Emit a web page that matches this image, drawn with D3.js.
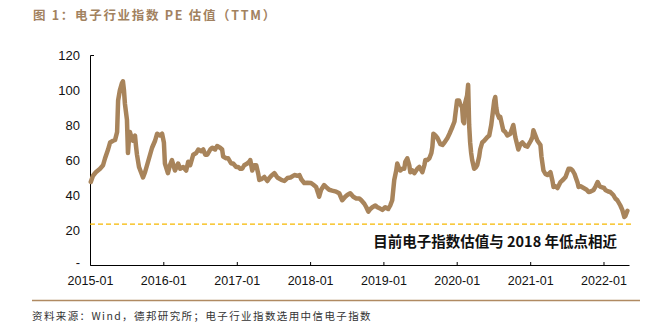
<!DOCTYPE html>
<html><head><meta charset="utf-8">
<script src="https://cdn.jsdelivr.net/npm/d3@7"></script>
<style>
html,body{margin:0;padding:0;background:#fff;}
svg{display:block;font-family:"Liberation Sans",Arial,sans-serif;}
</style></head>
<body>
<svg id="chart" width="669" height="334"></svg>
<script>
const dates = [
"2015-01-05","2015-01-16","2015-01-30","2015-02-20","2015-03-07","2015-03-17","2015-04-01","2015-04-11","2015-04-26","2015-05-06","2015-05-16","2015-05-21","2015-05-30","2015-06-09","2015-06-14","2015-06-19","2015-06-24","2015-07-04","2015-07-09","2015-07-14","2015-07-19","2015-07-24","2015-08-03","2015-08-13","2015-08-18","2015-08-23","2015-09-02","2015-09-12","2015-09-22","2015-10-02","2015-10-17","2015-10-27","2015-11-06","2015-11-21","2015-12-01","2015-12-16","2015-12-26",
"2016-01-04","2016-01-09","2016-01-24","2016-02-03","2016-02-13","2016-02-28","2016-03-15","2016-03-25","2016-04-09","2016-04-24","2016-05-04","2016-05-14","2016-05-29","2016-06-13","2016-06-23","2016-07-08","2016-07-18","2016-07-28","2016-08-07","2016-08-22","2016-09-01","2016-09-15","2016-09-25","2016-10-10","2016-10-20","2016-10-25","2016-11-09","2016-11-19","2016-12-04","2016-12-14","2016-12-29",
"2017-01-08","2017-01-18","2017-01-28","2017-02-07","2017-02-22","2017-03-04","2017-03-09","2017-03-19","2017-03-29","2017-04-08","2017-04-18","2017-04-23","2017-05-03","2017-05-18","2017-06-02","2017-06-12","2017-06-22","2017-07-07","2017-07-22","2017-08-11","2017-08-26","2017-09-10","2017-09-25","2017-10-15","2017-10-30","2017-11-09","2017-11-18","2017-12-03","2017-12-18",
"2018-01-06","2018-01-16","2018-01-31","2018-02-10","2018-02-15","2018-02-25","2018-03-12","2018-03-27","2018-04-06","2018-04-21","2018-05-11","2018-05-26","2018-06-10","2018-06-25","2018-07-05","2018-07-20","2018-08-04","2018-08-19","2018-09-03","2018-09-13","2018-09-28","2018-10-08","2018-10-18","2018-10-28","2018-11-07","2018-11-22","2018-12-02","2018-12-12","2018-12-27",
"2019-01-10","2019-01-25","2019-02-04","2019-02-14","2019-02-24","2019-03-06","2019-03-11","2019-03-21","2019-03-26","2019-04-05","2019-04-15","2019-04-20","2019-04-30","2019-05-10","2019-05-15","2019-05-25","2019-06-04","2019-06-19","2019-06-29","2019-07-09","2019-07-14","2019-07-24","2019-07-29","2019-08-08","2019-08-18","2019-08-28","2019-09-02","2019-09-07","2019-09-17","2019-09-27","2019-10-12","2019-10-22","2019-11-01","2019-11-16","2019-11-26","2019-12-11","2019-12-21","2019-12-26",
"2020-01-03","2020-01-13","2020-01-18","2020-01-28","2020-02-02","2020-02-07","2020-02-12","2020-02-22","2020-02-27","2020-03-03","2020-03-08","2020-03-13","2020-03-18","2020-03-28","2020-04-07","2020-04-12","2020-04-22","2020-04-27","2020-05-07","2020-05-17","2020-06-01","2020-06-11","2020-06-21","2020-06-26","2020-07-06","2020-07-11","2020-07-16","2020-07-21","2020-07-31","2020-08-05","2020-08-20","2020-08-30","2020-09-09","2020-09-24","2020-10-09","2020-10-19","2020-11-03","2020-11-13","2020-11-23","2020-12-08","2020-12-18",
"2021-01-04","2021-01-12","2021-01-17","2021-01-27","2021-02-06","2021-02-21","2021-02-26","2021-03-08","2021-03-18","2021-03-28","2021-04-12","2021-04-22","2021-04-27","2021-05-07","2021-05-17","2021-06-01","2021-06-16","2021-06-26","2021-07-11","2021-07-21","2021-07-31","2021-08-10","2021-08-15","2021-08-25","2021-08-30","2021-09-09","2021-09-24","2021-10-09","2021-10-19","2021-10-29","2021-11-13","2021-11-23","2021-12-03","2021-12-13","2021-12-18",
"2022-01-04","2022-01-10","2022-01-25","2022-02-04","2022-02-19","2022-03-01","2022-03-11","2022-03-16","2022-03-26","2022-04-05","2022-04-15","2022-04-20","2022-04-30"
];
const peValues = [
47.5,51,53,55,57,61,66,70,71,71.5,76,94,100,104,105,100,92,83,64,72,76,74,71,74,68,63,56,53,50,53,59,63,67,71,75,74,75,
70,58,52.5,57,60,54,58,55,56,54,59,57,63,64,66,65,66,63,63,66,67,66,68,67,66,62,61,61,58,58,56,
56,55,55,57,58,59,60,54,57,57,52,48.6,49,50.3,48,49.7,51,52.5,50,48.6,48,49.7,50,51.4,51,51.4,49,46.8,47,
46.8,46,44.6,41,39,43,45.7,44,43,42.5,41.9,41,37,39,40,41,39,38,38,37,35,33,30.5,32,33,34,33,32.5,31.5,
33,32,34,37,48.6,54,58,55,54,55,55,59,61,57,53,54,52.5,55,56,54,53,57,60,60,61,64,67.6,75,74,72.6,69,68.6,70,72.6,75,79,82,86.7,
94,94,92,90,82,81,92.6,97,103,80,70,64,60,55,56,57,62,66,70,71,73,74,80,84.6,94,96,90,86.7,84,84.6,77,76,74,75,80,73,66,69,70,68,67.6,
71,73,77,74,71,68.6,62,54,52,51.4,53,48,44.6,45,44,47.4,49,50.3,55,55,54,52,50.3,47,44.6,45,44,43,41.7,42,42.9,45,47.4,45,44.6,
44,42.9,42,41.7,40,38,37,36,34,31.4,27.4,28,31
];
const yTicks = [0,20,40,60,80,100,120];
const yTickLabels = ["-","20","40","60","80","100","120"];
const xTickDates = ["2015-01-01","2016-01-01","2017-01-01","2018-01-01","2019-01-01","2020-01-01","2021-01-01","2022-01-01"];
const lowLevel = [23.4];
const domainDates = ["2015-01-01","2022-05-08"];
const titleText = "图 1：电子行业指数 PE 估值（TTM）";
const noteText = "目前电子指数估值与 2018 年低点相近";
const sourceText = "资料来源：Wind，德邦研究所；电子行业指数选用中信电子指数";

const parse = d3.timeParse("%Y-%m-%d");
const data = dates.map((d,i)=>({date:parse(d), v:peValues[i]}));

const svg = d3.select("#chart");
const x = d3.scaleTime().domain(domainDates.map(parse)).range([90,629]);
const y = d3.scaleLinear().domain([0,120]).range([265,55]);

// title
svg.append("text").attr("x",33).attr("y",20)
  .attr("font-family","'Noto Sans CJK SC','Liberation Sans',sans-serif")
  .attr("font-size",12.5).attr("font-weight","bold").attr("letter-spacing",1.7)
  .attr("fill","#a2825f").text(titleText);

// y axis
const ya = svg.append("g").attr("transform","translate(90,0)")
  .call(d3.axisLeft(y).tickValues(yTicks).tickFormat((d,i)=>yTickLabels[i]).tickSize(0).tickSizeOuter(-4).tickPadding(10));
ya.select(".domain").attr("stroke","#000").attr("stroke-width",1);
ya.selectAll("text").attr("font-size",13).attr("fill","#111").attr("font-family","'Liberation Sans',Arial,sans-serif");
ya.selectAll(".tick").filter(d=>d===0).select("text").attr("dy","0.1em");

// x axis
const xa = svg.append("g").attr("transform","translate(0,265)")
  .call(d3.axisBottom(x).tickValues(xTickDates.map(parse)).tickFormat(d3.timeFormat("%Y-%m")).tickSize(-3).tickSizeOuter(0).tickPadding(11));
xa.select(".domain").attr("stroke","#000").attr("stroke-width",1);
xa.selectAll(".tick line").attr("stroke","#000");
xa.selectAll("text").attr("font-size",12.5).attr("fill","#111").attr("font-family","'Liberation Sans',Arial,sans-serif");

// dashed low line
svg.append("line").attr("x1",x(parse(domainDates[0]))).attr("x2",632)
  .attr("y1",y(lowLevel[0])).attr("y2",y(lowLevel[0]))
  .attr("stroke","#f6b800").attr("stroke-width",1.2).attr("stroke-dasharray","5,3");

// PE line
svg.append("path").datum(data)
  .attr("fill","none").attr("stroke","#a8845b").attr("stroke-width",4.5)
  .attr("stroke-linejoin","round").attr("stroke-linecap","round")
  .attr("d", d3.line().x(d=>x(d.date)).y(d=>y(d.v)));

// annotation
svg.append("text").attr("x",617).attr("y",247).attr("text-anchor","end")
  .attr("font-family","'Noto Sans CJK SC','Liberation Sans',sans-serif")
  .attr("font-size",14.5).attr("font-weight","bold").attr("fill","#111").text(noteText);

// separator
svg.append("line").attr("x1",32).attr("x2",640).attr("y1",300.5).attr("y2",300.5)
  .attr("stroke","#b08a62").attr("stroke-width",1.5);

// source
svg.append("text").attr("x",32).attr("y",320)
  .attr("font-family","'Noto Sans CJK SC','Liberation Sans',sans-serif")
  .attr("font-size",10.5).attr("letter-spacing",1.4).attr("fill","#333").text(sourceText);
</script>
</body></html>
